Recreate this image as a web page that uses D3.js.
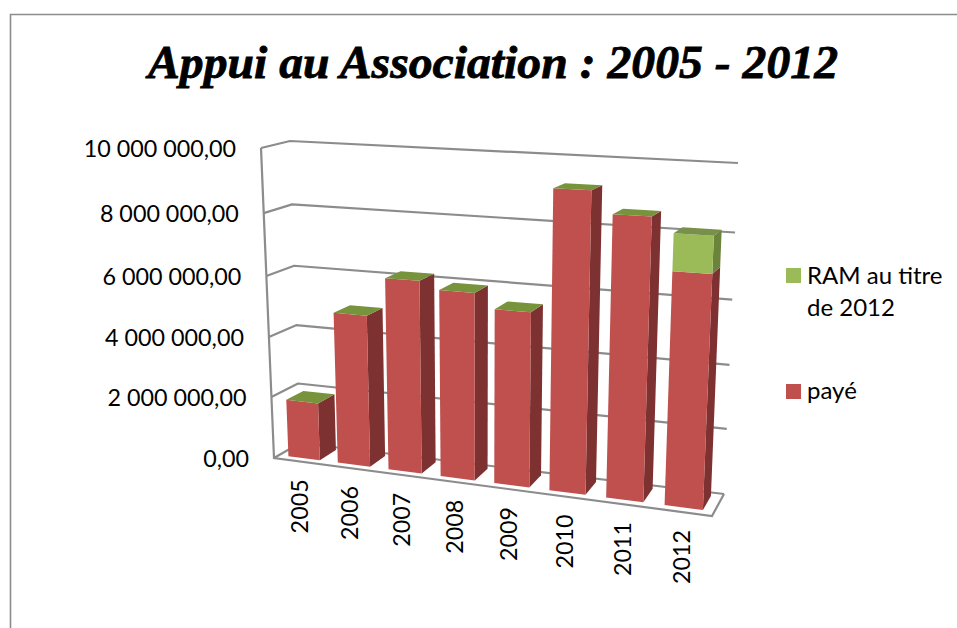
<!DOCTYPE html>
<html><head><meta charset="utf-8">
<script src="https://d3js.org/d3.v7.min.js"></script>
<style>html,body{margin:0;padding:0;background:#fff;overflow:hidden}svg{display:block}</style>
</head><body><svg id="c" width="957" height="628"></svg>
<script>
const title = "Appui au Association : 2005 - 2012";
const categories = ["2005","2006","2007","2008","2009","2010","2011","2012"];
const paye = [1850000,4900000,6150000,5910000,5450000,9180000,8530000,7000000];
const ram  = [0,0,0,0,0,0,0,1100000];
const tickValues = [0,2000000,4000000,6000000,8000000,10000000];
const tickLabels = ["0,00","2 000 000,00","4 000 000,00","6 000 000,00","8 000 000,00","10 000 000,00"];
const seriesNames = ["RAM au titre de 2012","payé"];

const svg = d3.select("#c");
// 3-D box of the plot: [x,y] corners, f=front b=back, l=left r=right, 0=floor 1=top
const box = {fl0:[274,458],fl1:[261,148],bl0:[300,443],bl1:[290,141],
             fr0:[712,516],fr1:[726.5,169],br0:[724,494],br1:[738,163]};
const persp = 1.12;
const warp = u => u/(u+persp*(1-u));
const uScale = d3.scaleBand().domain(categories).range([0,1]).paddingInner(0.36).paddingOuter(0.19);
const tScale = d3.scaleLinear().domain(tickValues).range([0,0.197,0.39,0.587,0.79,1]);
const lerp = (a,b,k)=>[a[0]+(b[0]-a[0])*k,a[1]+(b[1]-a[1])*k];
function P(u,v,w){
  const U=warp(u),T=tScale(v);
  const f0=lerp(box.fl0,box.fr0,U),f1=lerp(box.fl1,box.fr1,U),
        b0=lerp(box.bl0,box.br0,U),b1=lerp(box.bl1,box.br1,U);
  return lerp(lerp(f0,f1,T),lerp(b0,b1,T),w);
}
const line=d3.line();
const poly=pts=>line(pts)+"Z";
const GRID="#8c8c8c";

// chart frame
svg.append("path").attr("d","M10.5,628V14.5H957").attr("fill","none").attr("stroke","#8c8c8c").attr("stroke-width",1.6);

// title
svg.append("text").attr("x",493).attr("y",78).attr("text-anchor","middle")
  .attr("font-family","'Liberation Serif',serif").attr("font-weight","bold").attr("font-style","italic")
  .attr("font-size",47).attr("textLength",690).attr("lengthAdjust","spacingAndGlyphs")
  .attr("fill","#000").attr("stroke","#000").attr("stroke-width",0.8).text(title);

// walls & floor
tickValues.forEach(v=>{
  svg.append("path").attr("d",line([P(0,v,0),P(0,v,1),P(1,v,1)])).attr("fill","none")
    .attr("stroke",GRID).attr("stroke-width",2.2).attr("stroke-linejoin","round");
});
svg.append("path").attr("d",line([P(0,10000000,0),P(0,0,0),P(1,0,0),P(1,0,1)])).attr("fill","none")
   .attr("stroke",GRID).attr("stroke-width",2.2).attr("stroke-linejoin","miter");

// y labels
tickValues.forEach((v,i)=>{
  const p=P(0,v,0);
  svg.append("text").attr("x",p[0]-25).attr("y",p[1]+9).attr("text-anchor","end")
    .attr("font-family","Lato,sans-serif").attr("font-size",23.3).attr("fill","#000").text(tickLabels[i]);
});

// bars
const W0=0.2,W1=0.85;
const stackData=categories.map((c,i)=>({c,paye:paye[i],ram:ram[i]}));
const stacked=d3.stack().keys(["paye","ram"])(stackData);
const COL={paye:{front:"#C0504D",side:"#7D3130",top:"#77933C"},
           ram:{front:"#9BBB59",side:"#6B833A",top:"#77904A"}};
categories.forEach((c,i)=>{
  const u0=uScale(c),u1=u0+uScale.bandwidth();
  stacked.forEach(s=>{
    const [y0,y1]=s[i];
    const col=COL[s.key];
    if(y1-y0<=0)return;
    const g=svg.append("g");
    g.append("path").attr("d",poly([P(u1,y0,W0),P(u1,y0,W1),P(u1,y1,W1),P(u1,y1,W0)])).attr("fill",col.side);
    g.append("path").attr("d",poly([P(u0,y0,W0),P(u1,y0,W0),P(u1,y1,W0),P(u0,y1,W0)])).attr("fill",col.front);
  });
  const total=paye[i]+ram[i];
  const tc=ram[i]>0?COL.ram.top:COL.paye.top;
  svg.append("path").attr("d",poly([P(u0,total,W0),P(u1,total,W0),P(u1,total,W1),P(u0,total,W1)])).attr("fill",tc);
});

// x labels
categories.forEach(c=>{
  const p=P(uScale(c)+uScale.bandwidth()/2,0,0);
  const x=p[0]+9,y=p[1]+18;
  svg.append("text").attr("transform",`translate(${x},${y}) rotate(-90)`).attr("text-anchor","end")
    .attr("font-family","Lato,sans-serif").attr("font-size",23.3).attr("fill","#000").text(c);
});

// legend
const lg=svg.append("g").attr("font-family","Lato,sans-serif").attr("font-size",24).attr("fill","#000");
lg.append("rect").attr("x",786).attr("y",268).attr("width",15).attr("height",15).attr("fill",COL.ram.front);
lg.append("text").attr("x",807).attr("y",284).text("RAM au titre");
lg.append("text").attr("x",807).attr("y",316).text("de 2012");
lg.append("rect").attr("x",786).attr("y",384).attr("width",15).attr("height",15).attr("fill",COL.paye.front);
lg.append("text").attr("x",807).attr("y",399).text(seriesNames[1]);
</script></body></html>
